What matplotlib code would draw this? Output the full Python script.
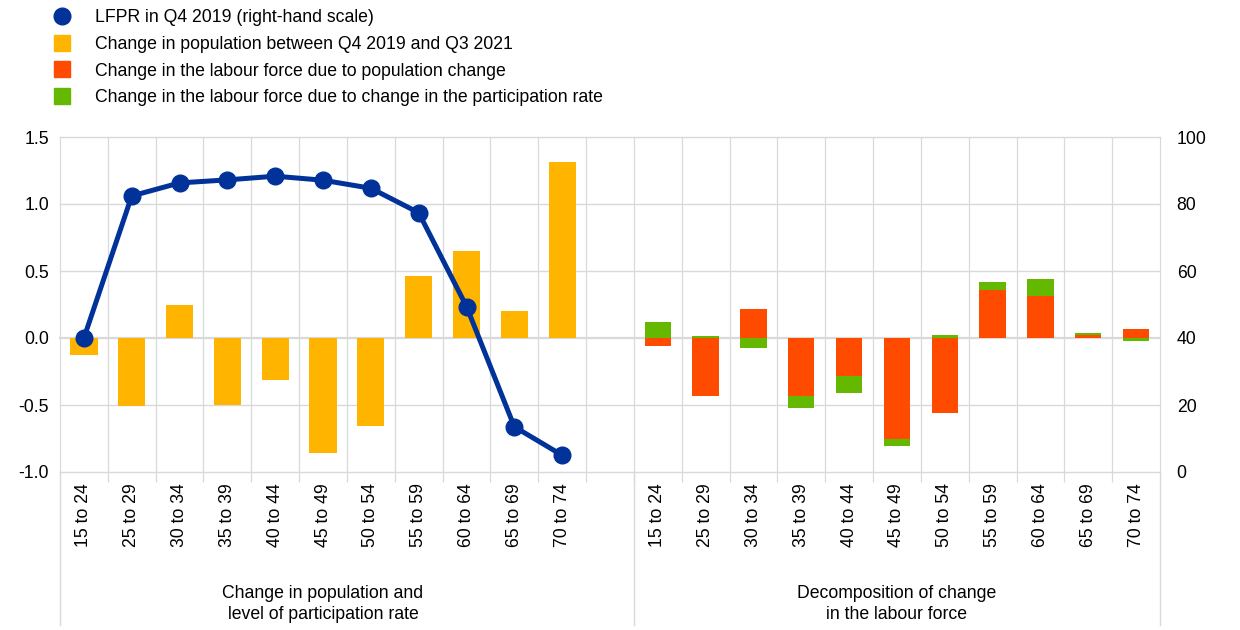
import matplotlib
matplotlib.use("Agg")
import matplotlib.pyplot as plt
from matplotlib.lines import Line2D
import numpy as np

plt.rcParams['font.family'] = ['Liberation Sans', 'DejaVu Sans']

age_groups = ["15 to 24", "25 to 29", "30 to 34", "35 to 39", "40 to 44", "45 to 49",
              "50 to 54", "55 to 59", "60 to 64", "65 to 69", "70 to 74"]
pop_change = [-0.13, -0.51, 0.25, -0.50, -0.31, -0.86, -0.66, 0.46, 0.65, 0.20, 1.31]
lfpr_q4_2019 = [40.0, 82.4, 86.3, 87.2, 88.3, 87.1, 84.7, 77.4, 49.4, 13.5, 5.0]
lf_pop_effect = [-0.057, -0.43, 0.216, -0.436, -0.28, -0.756, -0.563, 0.357, 0.317, 0.022, 0.064]
lf_part_effect = [0.117, 0.012, -0.074, -0.084, -0.129, -0.05, 0.02, 0.06, 0.126, 0.012, -0.025]
group_titles = ["Change in population and\nlevel of participation rate",
                "Decomposition of change\nin the labour force"]
left_ticks = [-1.0, -0.5, 0.0, 0.5, 1.0, 1.5]
right_ticks = [0, 20, 40, 60, 80, 100]

C_NAVY = "#003299"
C_YELLOW = "#FFB400"
C_RED = "#FF4B00"
C_GREEN = "#65B800"
C_GRID = "#D9D9D9"
FS = 12.7

n = len(age_groups)
x_left = np.arange(n)
x_right = np.arange(n) + n + 1

fig = plt.figure(figsize=(12.4, 6.3), dpi=100)
ax = fig.add_axes([60/1240, 1-472/630, 1100/1240, 335/630])
ax2 = ax.twinx()

ax.set_xlim(-0.5, 2*n + 0.5)
ax.set_ylim(-1.0, 1.5)
ax.set_yticks(left_ticks)
ax.set_yticklabels([f"{v:.1f}" for v in left_ticks], fontsize=FS)
ax2.set_ylim(0, 100)
ax2.set_yticks(right_ticks)
ax2.set_yticklabels([str(v) for v in right_ticks], fontsize=FS)

# grid
for yv in left_ticks:
    ax.axhline(yv, color=C_GRID, lw=1.6 if yv == 0 else 1.0, zorder=0, clip_on=False)
for k in range(1, 2*n + 1):
    ax.axvline(k - 0.5, color=C_GRID, lw=0.9, zorder=0)

# yellow bars
ax.bar(x_left, pop_change, width=0.57, color=C_YELLOW, zorder=2)

# stacked decomposition bars
pe = np.array(lf_pop_effect)
pa = np.array(lf_part_effect)
pos_base = np.zeros(n)
neg_base = np.zeros(n)
for vals, col in [(pe, C_RED), (pa, C_GREEN)]:
    bottoms = np.where(vals >= 0, pos_base, neg_base)
    ax.bar(x_right, vals, bottom=bottoms, width=0.55, color=col, zorder=2)
    pos_base = pos_base + np.where(vals >= 0, vals, 0)
    neg_base = neg_base + np.where(vals < 0, vals, 0)

# LFPR line on right axis
ax2.plot(x_left, lfpr_q4_2019, color=C_NAVY, lw=3.6, marker='o', markersize=12, zorder=3)

# x ticks
ax.set_xticks(list(x_left) + list(x_right))
ax.set_xticklabels(age_groups + age_groups, rotation=90, fontsize=FS)
ax.set_xticks([k - 0.5 for k in range(1, 2*n + 1)], minor=True)
ax.tick_params(axis='x', which='major', length=0, pad=8)
ax.tick_params(axis='x', which='minor', length=7, color=C_GRID, width=0.9)
ax.tick_params(axis='y', length=0, pad=8)
ax2.tick_params(axis='y', length=0, pad=12)

for a in (ax, ax2):
    for s in a.spines.values():
        s.set_visible(False)
ax2.spines['right'].set_visible(True)
ax2.spines['right'].set_color(C_GRID)
ax2.spines['left'].set_visible(True)
ax2.spines['left'].set_color(C_GRID)

# separators extending below the axis
for xv in [-0.5, n + 0.5, 2*n + 0.5]:
    ax.plot([xv, xv], [-1.0, -1.0 - 153/134], color=C_GRID, lw=1.0, clip_on=False, zorder=0)

# group titles
ax.text((n - 1) / 2 + 0.0, -1.0 - 132/134, group_titles[0], ha='center', va='center',
        fontsize=FS, linespacing=1.35)
ax.text(n + 1 + (n - 1) / 2, -1.0 - 132/134, group_titles[1], ha='center', va='center',
        fontsize=FS, linespacing=1.35)

# legend
handles = [
    Line2D([], [], color=C_NAVY, marker='o', linestyle='None', markersize=12),
    Line2D([], [], color=C_YELLOW, marker='s', linestyle='None', markersize=11),
    Line2D([], [], color=C_RED, marker='s', linestyle='None', markersize=11),
    Line2D([], [], color=C_GREEN, marker='s', linestyle='None', markersize=11),
]
labels = ["LFPR in Q4 2019 (right-hand scale)",
          "Change in population between Q4 2019 and Q3 2021",
          "Change in the labour force due to population change",
          "Change in the labour force due to change in the participation rate"]
fig.legend(handles, labels, loc='upper left', bbox_to_anchor=(36/1240, 1.0), frameon=False,
           fontsize=FS, labelspacing=0.56, handletextpad=0.85, borderaxespad=0.1)

fig.savefig("out.png", dpi=100)
